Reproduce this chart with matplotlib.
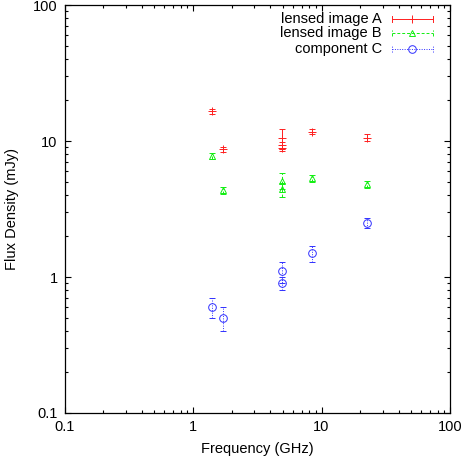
import matplotlib
matplotlib.use("Agg")
import matplotlib.pyplot as plt
import numpy as np

plt.rcParams['font.family'] = ['Liberation Sans', 'DejaVu Sans']

# Data
freq_A = [1.4, 1.7, 4.9, 4.9, 4.9, 8.4, 22.4]
flux_A = [16.5, 8.7, 10.5, 9.3, 8.9, 11.7, 10.6]
err_A = [0.8, 0.4, 1.7, 0.6, 0.5, 0.5, 0.6]

freq_B = [1.4, 1.7, 4.9, 4.9, 8.4, 22.4]
flux_B = [7.8, 4.35, 5.1, 4.4, 5.3, 4.8]
err_B = [0.4, 0.25, 0.7, 0.5, 0.3, 0.3]

freq_C = [1.4, 1.7, 4.9, 4.9, 8.4, 22.4]
flux_C = [0.6, 0.5, 1.1, 0.9, 1.5, 2.5]
err_C = [0.1, 0.1, 0.2, 0.1, 0.2, 0.2]

labels = ["lensed image A", "lensed image B", "component C"]
colors = ["#ff2020", "#10ee10", "#3030ff"]

FS = 10.5
fig = plt.figure(figsize=(4.63, 4.63), dpi=100)
ax = fig.add_axes([64.5/463, 1-413/463, 385.5/463, 408/463])

series = [(freq_A, flux_A, err_A, '+', '-', 6),
          (freq_B, flux_B, err_B, '^', (0, (3, 2)), 5),
          (freq_C, flux_C, err_C, 'o', (0, (1, 1.5)), 5.5)]

for (f, v, e, m, ls, ms), c in zip(series, colors):
    eb = ax.errorbar(f, v, yerr=e, fmt='none', ecolor=c, elinewidth=0.7,
                     capsize=2.2, capthick=0.7)
    for col in eb[2]:
        col.set_linestyle(ls)
    ax.plot(f, v, linestyle='none', marker=m, ms=ms, mec=c,
            mfc='none', mew=0.7)

ax.set_xscale('log')
ax.set_yscale('log')
ax.set_xlim(0.1, 100)
ax.set_ylim(0.1, 100)
ax.set_xticks([0.1, 1, 10, 100])
ax.set_xticklabels(["0.1", "1", "10", "100"])
ax.set_yticks([0.1, 1, 10, 100])
ax.set_yticklabels(["0.1", "1", "10", "100"])
ax.tick_params(which='both', direction='in', top=True, right=True,
               labelsize=FS, colors='black')
ax.tick_params(which='major', length=4.5, width=0.8, pad=5)
ax.tick_params(which='minor', length=2.3, width=0.8)
for s in ax.spines.values():
    s.set_linewidth(0.9)
ax.set_xlabel("Frequency (GHz)", fontsize=FS, labelpad=6)
ax.set_ylabel("Flux Density (mJy)", fontsize=FS, labelpad=10)

# Manual gnuplot-style legend
ys = [0.966, 0.931, 0.892]
markers = ['+', '^', 'o']
msizes = [6, 5, 5.5]
lstyles = ['-', (0, (3, 2)), (0, (1, 1.5))]
for lab, c, y, m, ls, ms in zip(labels, colors, ys, markers, lstyles, msizes):
    ax.text(0.823, y, lab, transform=ax.transAxes, ha='right', va='center',
            fontsize=FS)
    ax.plot([0.849, 0.955], [y, y], transform=ax.transAxes, color=c,
            lw=0.7, linestyle=ls, clip_on=False)
    for xx in (0.849, 0.955):
        ax.plot([xx, xx], [y-0.007, y+0.007], transform=ax.transAxes,
                color=c, lw=0.7, linestyle=ls, clip_on=False)
    ax.plot([0.902], [y], transform=ax.transAxes, marker=m, ms=ms,
            mec=c, mfc='none', mew=0.7, linestyle='none', clip_on=False)

fig.savefig("out.png", dpi=100)
